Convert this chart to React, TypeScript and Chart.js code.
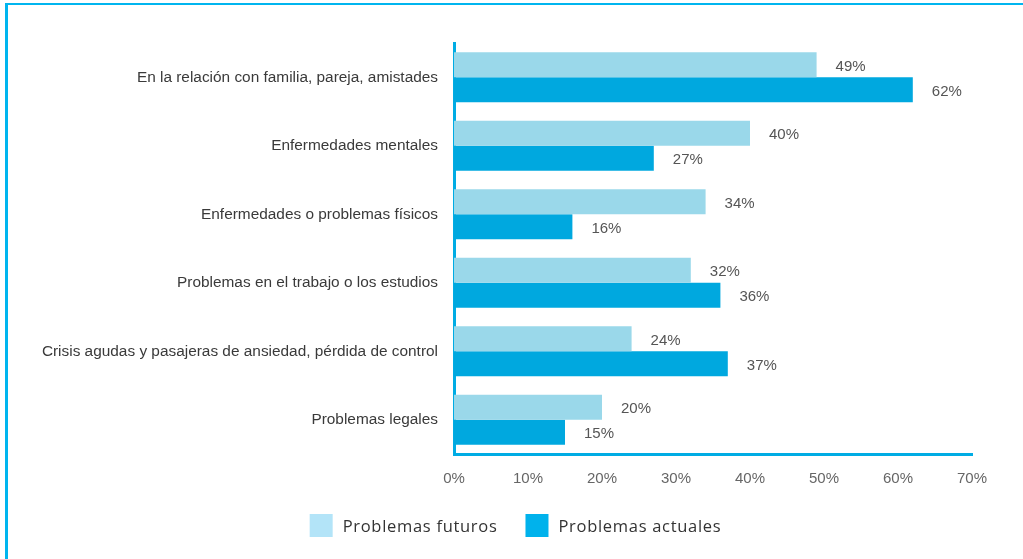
import React, { useEffect, useRef } from "react";
import { Chart, registerables } from "chart.js";

Chart.register(...registerables);

const categories = [
  "En la relación con familia, pareja, amistades",
  "Enfermedades mentales",
  "Enfermedades o problemas físicos",
  "Problemas en el trabajo o los estudios",
  "Crisis agudas y pasajeras de ansiedad, pérdida de control",
  "Problemas legales",
];
const futuros = [49, 40, 34, 32, 24, 20];
const actuales = [62, 27, 16, 36, 37, 15];
const seriesNames = ["Problemas futuros", "Problemas actuales"];
const xTicks = [0, 10, 20, 30, 40, 50, 60, 70];

const BAR_LIGHT = "#9ad8ea";
const BAR_DARK = "#00a8df";
const LEG_LIGHT = "#b3e4f8";
const LEG_DARK = "#00b2ec";
const AXIS = "#00ace4";
const FONT = "'Liberation Sans', Arial, Helvetica, sans-serif";

const valueLabels = {
  id: "valueLabels",
  afterDatasetsDraw(chart: any) {
    const ctx = chart.ctx;
    ctx.save();
    ctx.font = `15px ${FONT}`;
    ctx.fillStyle = "#555555";
    ctx.textAlign = "left";
    ctx.textBaseline = "middle";
    chart.data.datasets.forEach((ds: any, i: number) => {
      const meta = chart.getDatasetMeta(i);
      meta.data.forEach((el: any, j: number) => {
        ctx.fillText(`${ds.data[j]}%`, el.x + 19, el.y + 2);
      });
    });
    ctx.restore();
  },
};

const customLegend = {
  id: "customLegend",
  afterDraw(chart: any) {
    const ctx = chart.ctx;
    ctx.save();
    ctx.font = `16.5px 'Open Sans', sans-serif`;
    try {
      (ctx as any).letterSpacing = "0.7px";
    } catch (e) {}
    const box = 23;
    const gapText = 10;
    const gapItems = 28;
    const items = chart.data.datasets.map((ds: any) => ({
      text: ds.label,
      color: ds.legendColor,
      w: ctx.measureText(ds.label).width,
    }));
    const total =
      items.reduce((s: number, it: any) => s + box + gapText + it.w, 0) +
      gapItems * (items.length - 1);
    let x = 515.5 - total / 2;
    const yTop = 514;
    items.forEach((it: any) => {
      ctx.fillStyle = it.color;
      ctx.fillRect(x, yTop, box, box);
      ctx.fillStyle = "#333333";
      ctx.textAlign = "left";
      ctx.textBaseline = "middle";
      ctx.fillText(it.text, x + box + gapText, yTop + box / 2 + 2);
      x += box + gapText + it.w + gapItems;
    });
    ctx.restore();
  },
};

function BarChart() {
  const ref = useRef<HTMLCanvasElement>(null);
  useEffect(() => {
    if (!ref.current) return;
    const chart = new Chart(ref.current, {
      type: "bar",
      data: {
        labels: categories,
        datasets: [
          {
            label: seriesNames[0],
            data: futuros,
            backgroundColor: BAR_LIGHT,
            legendColor: LEG_LIGHT,
            categoryPercentage: 0.73,
            barPercentage: 1,
          } as any,
          {
            label: seriesNames[1],
            data: actuales,
            backgroundColor: BAR_DARK,
            legendColor: LEG_DARK,
            categoryPercentage: 0.73,
            barPercentage: 1,
          } as any,
        ],
      },
      options: {
        indexAxis: "y",
        animation: false,
        responsive: false,
        layout: { padding: { top: 43, right: 51, bottom: 0, left: 0 } },
        plugins: {
          legend: { display: false },
          tooltip: { enabled: false },
        },
        scales: {
          x: {
            min: 0,
            max: 70,
            afterBuildTicks: (scale: any) => {
              scale.ticks = xTicks.map((v) => ({ value: v }));
            },
            afterFit: (scale: any) => {
              scale.height = 559 - 454;
            },
            grid: { display: false },
            border: { display: true, color: AXIS, width: 3 },
            ticks: {
              padding: 8,
              color: "#666666",
              font: { family: FONT, size: 15 },
              callback: (v: any) => `${v}%`,
            },
          },
          y: {
            afterFit: (scale: any) => {
              scale.width = 454;
            },
            grid: { display: false },
            border: { display: true, color: AXIS, width: 3 },
            ticks: {
              padding: 8,
              color: "#3a3a3a",
              font: { family: FONT, size: 15.4 },
            },
          },
        },
      },
      plugins: [valueLabels, customLegend],
    });
    return () => chart.destroy();
  }, []);
  return <canvas ref={ref} width={1023} height={559} style={{ display: "block" }} />;
}

export default function App() {
  return (
    <div
      style={{
        position: "absolute",
        left: 0,
        top: 0,
        width: 1023,
        height: 559,
        background: "#ffffff",
        overflow: "hidden",
      }}
    >
      <BarChart />
      <div style={{ position: "absolute", left: 6, top: 3, width: 1017, height: 2, background: "#00b5ef" }} />
      <div style={{ position: "absolute", left: 5, top: 3, width: 3, height: 556, background: "#00b5ef" }} />
    </div>
  );
}
